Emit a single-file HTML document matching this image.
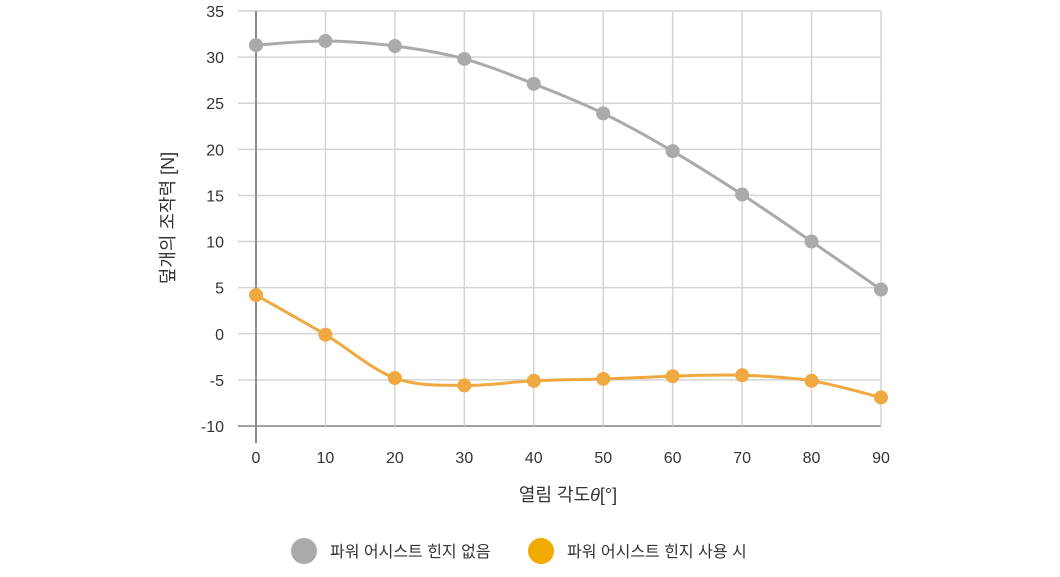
<!DOCTYPE html>
<html><head><meta charset="utf-8"><style>
body{margin:0;background:#fff;}
svg text{font-family:"Liberation Sans","Noto Sans CJK KR",sans-serif;fill:#333;}
</style></head><body>
<svg width="1060" height="572" xmlns="http://www.w3.org/2000/svg" id="c">
<g id="grid"></g>
<g id="ticks"></g>
<g id="series"></g>
<text x="568" y="501" font-size="18" text-anchor="middle">열림 각도<tspan font-style="italic">θ</tspan>[°]</text>
<text transform="translate(174,218) rotate(-90)" font-size="18" text-anchor="middle">덮개의 조작력 [N]</text>
<g>
<circle cx="304" cy="551" r="13" fill="#aaaaaa"/>
<text x="330" y="557" font-size="16">파워 어시스트 힌지 없음</text>
<circle cx="541" cy="551" r="13" fill="#f2a900"/>
<text x="567" y="557" font-size="16">파워 어시스트 힌지 사용 시</text>
</g>
</svg>
<script>
const categories=[0,10,20,30,40,50,60,70,80,90];
const noAssist=[31.3,31.75,31.2,29.8,27.1,23.9,19.8,15.1,10.0,4.8];
const withAssist=[4.2,-0.1,-4.8,-5.6,-5.1,-4.9,-4.6,-4.5,-5.1,-6.9];
const yTicks=[35,30,25,20,15,10,5,0,-5,-10];
const NS="http://www.w3.org/2000/svg";
const X=v=>256+(v-0)*(881-256)/90;
const Y=v=>11+(35-v)*(426-11)/45;
function mk(t,a,p){const e=document.createElementNS(NS,t);for(const k in a)e.setAttribute(k,a[k]);p.appendChild(e);return e;}
const grid=document.getElementById('grid'),ticks=document.getElementById('ticks'),ser=document.getElementById('series');
yTicks.forEach((v,i)=>{
 const last=i===yTicks.length-1;
 const l=mk('line',{x1:238,x2:881,y1:Y(v),y2:Y(v),stroke:last?'#a0a0a0':'#d4d4d4','stroke-width':last?2:1.5},grid);
 
 
 const t=mk('text',{x:224,y:Y(v)+6,'font-size':16,'text-anchor':'end'},ticks);
 t.textContent=v;
 
 
});
categories.forEach(c=>{
 const l=mk('line',{x1:X(c),x2:X(c),y1:11,y2:c===0?443:426,stroke:c===0?'#8c8c8c':'#d4d4d4','stroke-width':c===0?2:1.5},grid);
 
 
 const t=mk('text',{x:X(c),y:463,'font-size':16,'text-anchor':'middle'},ticks);
 t.textContent=c;
 
 
});
function path(vals){
 const p=vals.map((v,i)=>[X(categories[i]),Y(v)]);
 let d='M'+p[0][0]+','+p[0][1];
 for(let i=0;i<p.length-1;i++){
  const p0=p[i-1]||p[i],p1=p[i],p2=p[i+1],p3=p[i+2]||p2;
  const c1=[p1[0]+(p2[0]-p0[0])/6,p1[1]+(p2[1]-p0[1])/6];
  const c2=[p2[0]-(p3[0]-p1[0])/6,p2[1]-(p3[1]-p1[1])/6];
  d+=' C'+c1+' '+c2+' '+p2;
 }
 return d;
}
function draw(vals,col,name){
 const pa=mk('path',{d:path(vals),fill:'none',stroke:col,'stroke-width':3},ser);
 
 
 vals.forEach((v,i)=>{
  const c=mk('circle',{cx:X(categories[i]),cy:Y(v),r:7,fill:col},ser);
  
  
 });
}
draw(noAssist,'#aaaaaa','no-assist');
draw(withAssist,'#f0a840','with-assist');
</script>
</body></html>
